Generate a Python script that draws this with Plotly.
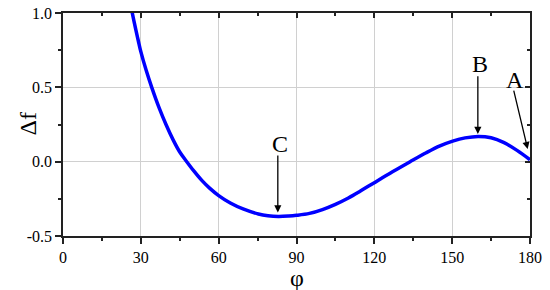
import plotly.graph_objects as go

phi = [25.8, 26.7, 28, 29, 30, 32, 34.2, 37.1, 39.7, 42.5, 45, 47.7, 50.5, 53.5, 56.5, 60, 64.5, 69.4, 75.3, 79, 83, 87, 90, 95, 100, 105, 110, 114.5, 120, 127, 133.8, 140, 145.3, 150.2, 155, 160, 165, 170, 175, 180]
df = [1.08, 1.0, 0.893, 0.815, 0.74, 0.618, 0.5, 0.36, 0.25, 0.145, 0.065, 0.0, -0.064, -0.126, -0.178, -0.228, -0.278, -0.318, -0.352, -0.364, -0.369, -0.366, -0.361, -0.348, -0.322, -0.287, -0.244, -0.199, -0.141, -0.068, 0.0, 0.06, 0.106, 0.138, 0.16, 0.17, 0.161, 0.128, 0.076, 0.013]

x_ticks = [0, 30, 60, 90, 120, 150, 180]
y_ticks = [-0.5, 0.0, 0.5, 1.0]
y_tick_labels = ["-0.5", "0.0", "0.5", "1.0"]

labels = ["C", "B", "A"]
label_pos = [(83.5, 0.122), (160.6, 0.655), (174.2, 0.552)]
arrow_tail = [(82.8, 0.052), (159.9, 0.584), (173.6, 0.488)]
arrow_head = [(82.8, -0.342), (159.9, 0.186), (179.1, 0.085)]

font_family = "Liberation Serif, Times New Roman, serif"

fig = go.Figure()
fig.add_trace(go.Scatter(x=phi, y=df, mode="lines", line=dict(color="#0000ff", width=3.5, shape="spline", smoothing=1.0), showlegend=False))

for lab, (lx, ly), (tx, ty), (hx, hy) in zip(labels, label_pos, arrow_tail, arrow_head):
    fig.add_annotation(x=lx, y=ly, text=lab, showarrow=False, font=dict(family=font_family, size=24, color="black"))
    fig.add_annotation(x=hx, y=hy, ax=tx, ay=ty, xref="x", yref="y", axref="x", ayref="y", text="",
                       showarrow=True, arrowhead=2, arrowsize=1.1, arrowwidth=1.3, arrowcolor="black")

# axis titles (positions in paper fractions of the plot area)
fig.add_annotation(x=-0.077, y=0.50, xref="paper", yref="paper", xanchor="center", yanchor="middle",
                   text="Δf", showarrow=False, textangle=-90,
                   font=dict(family=font_family, size=24, color="black"))
fig.add_annotation(x=0.501, y=-0.19, xref="paper", yref="paper", xanchor="center", yanchor="middle",
                   text="φ", showarrow=False,
                   font=dict(family=font_family, size=24, color="black"))

axis_common = dict(showline=True, linecolor="#222", linewidth=1.6, zeroline=False, automargin=False,
                   tickfont=dict(family=font_family, size=16, color="black"), tickcolor="#222")

fig.update_layout(
    width=550, height=290,
    margin=dict(l=63, r=20, t=13, b=54, autoexpand=False),
    font=dict(family=font_family, color="black"),
    plot_bgcolor="white", paper_bgcolor="white",
    xaxis=dict(range=[0, 180], tickvals=x_ticks, ticks="outside", ticklen=6, tickwidth=1.5,
               showgrid=True, gridcolor="#d0d0d0", gridwidth=1,
               minor=dict(ticks="outside", dtick=15, tick0=0, ticklen=3, tickwidth=1.5, tickcolor="#222", showgrid=False),
               **axis_common),
    yaxis=dict(range=[-0.5, 1.0], tickvals=y_ticks, ticktext=y_tick_labels, ticks="outside", ticklen=6, tickwidth=1.5,
               showgrid=True, gridcolor="#d0d0d0", gridwidth=1,
               minor=dict(ticks="outside", dtick=0.25, tick0=0, ticklen=3, tickwidth=1.5, tickcolor="#222", showgrid=False),
               **axis_common),
    xaxis2=dict(overlaying="x", side="top", range=[0, 180], tickvals=x_ticks, ticks="inside", ticklen=5, tickwidth=1.5,
                showticklabels=False, showgrid=False,
                minor=dict(ticks="inside", dtick=15, tick0=0, ticklen=3, tickwidth=1.5, tickcolor="#222"),
                **axis_common),
    yaxis2=dict(overlaying="y", side="right", range=[-0.5, 1.0], tickvals=y_ticks, ticks="inside", ticklen=5, tickwidth=1.5,
                showticklabels=False, showgrid=False,
                minor=dict(ticks="inside", dtick=0.25, tick0=0, ticklen=3, tickwidth=1.5, tickcolor="#222"),
                **axis_common),
)
fig.add_trace(go.Scatter(x=[None], y=[None], xaxis="x2", yaxis="y2", showlegend=False, hoverinfo="skip"))

fig.write_html("out.html", config={"displayModeBar": False}, post_script="document.body.style.margin='0';")
